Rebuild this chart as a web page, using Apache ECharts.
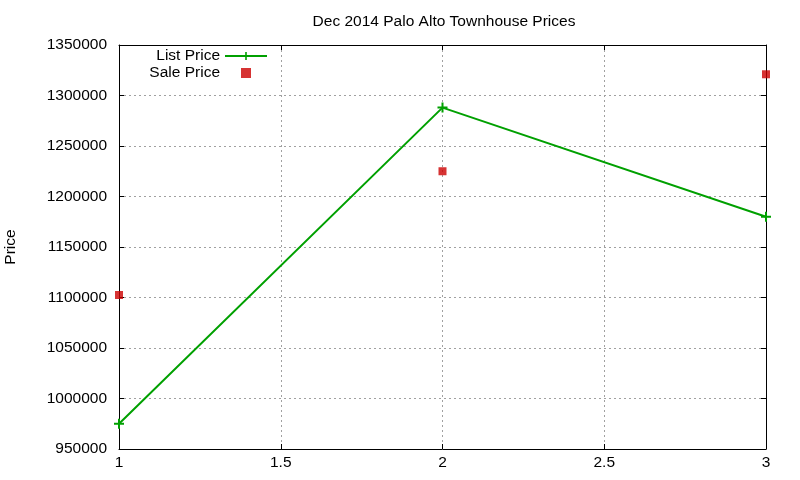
<!DOCTYPE html>
<html>
<head>
<meta charset="utf-8">
<script src="https://cdn.jsdelivr.net/npm/echarts@6/dist/echarts.min.js"></script>
<style>
  html, body { margin: 0; padding: 0; background: #fff; }
  #main { width: 800px; height: 480px; }
</style>
</head>
<body>
<div id="main"></div>
<script>
(function() {
    'use strict';

    var xValues = [1, 2, 3];
    var listPrice = [975000, 1288000, 1180000];
    var salePrice = [1102500, 1225000, 1321000];
    var xTicks = [1, 1.5, 2, 2.5, 3];

    var font = 'Liberation Sans';
    var fs = 15.5;
    var plus = 'path://M4,0h2v4h4v2h-4v4h-2v-4h-4v-2h4z';
    var square = 'path://M0,0h10v10h-10z';

    var myChart = echarts.init(document.getElementById('main'));

    function pairs(xs, ys) {
        return xs.map(function(x, i) { return [x, ys[i]]; });
    }

    var gridLine = { show: true, lineStyle: { color: '#a0a0a0', width: 1, type: [2, 3] } };
    var blackLine = { show: true, lineStyle: { color: '#000', width: 1 } };
    var tick = { show: true, inside: true, length: 5, lineStyle: { color: '#000' } };

    var option = {
        animation: false,
        backgroundColor: '#fff',
        title: {
            text: 'Dec 2014 Palo Alto Townhouse Prices',
            left: 439,
            textAlign: 'center',
            top: 9,
            textStyle: { fontFamily: font, fontSize: fs, fontWeight: 'normal', color: '#000' }
        },
        legend: {
            orient: 'vertical',
            align: 'right',
            right: 527,
            top: 43,
            itemWidth: 42,
            itemHeight: 10,
            itemGap: 1,
            textStyle: { fontFamily: font, fontSize: fs, color: '#000' },
            data: [
                { name: 'List Price' },
                { name: 'Sale Price', icon: square }
            ]
        },
        grid: { left: 119, right: 34, top: 45, bottom: 31, containLabel: false, outerBoundsMode: 'none' },
        xAxis: [{
            type: 'value',
            min: 1, max: 3, interval: 0.5,
            axisLine: blackLine,
            axisTick: tick,
            splitLine: gridLine,
            axisLabel: {
                margin: 6,
                fontFamily: font, fontSize: fs, color: '#000',
                formatter: function(v) { return xTicks.indexOf(v) >= 0 ? String(v) : ''; }
            }
        }, {
            type: 'value', position: 'top',
            min: 1, max: 3, interval: 0.5,
            axisLine: blackLine,
            axisTick: tick,
            splitLine: { show: false },
            axisLabel: { show: false }
        }],
        yAxis: [{
            type: 'value',
            min: 950000, max: 1350000, interval: 50000,
            name: 'Price',
            nameLocation: 'middle',
            nameGap: 100,
            nameTextStyle: { fontFamily: font, fontSize: fs, color: '#000' },
            axisLine: blackLine,
            axisTick: tick,
            splitLine: gridLine,
            axisLabel: {
                margin: 12,
                fontFamily: font, fontSize: fs, color: '#000',
                formatter: function(v) { return String(v); }
            }
        }, {
            type: 'value', position: 'right',
            min: 950000, max: 1350000, interval: 50000,
            axisLine: blackLine,
            axisTick: tick,
            splitLine: { show: false },
            axisLabel: { show: false }
        }],
        series: [{
            name: 'List Price',
            type: 'line',
            data: pairs(xValues, listPrice),
            symbol: plus,
            symbolSize: 10,
            showAllSymbol: true,
            itemStyle: { color: '#00a000' },
            lineStyle: { color: '#00a000', width: 2 }
        }, {
            name: 'Sale Price',
            type: 'scatter',
            data: pairs(xValues, salePrice),
            symbol: 'rect',
            symbolSize: 8,
            itemStyle: { color: '#cc0000' }
        }]
    };

    myChart.setOption(option);
})();
</script>
</body>
</html>
